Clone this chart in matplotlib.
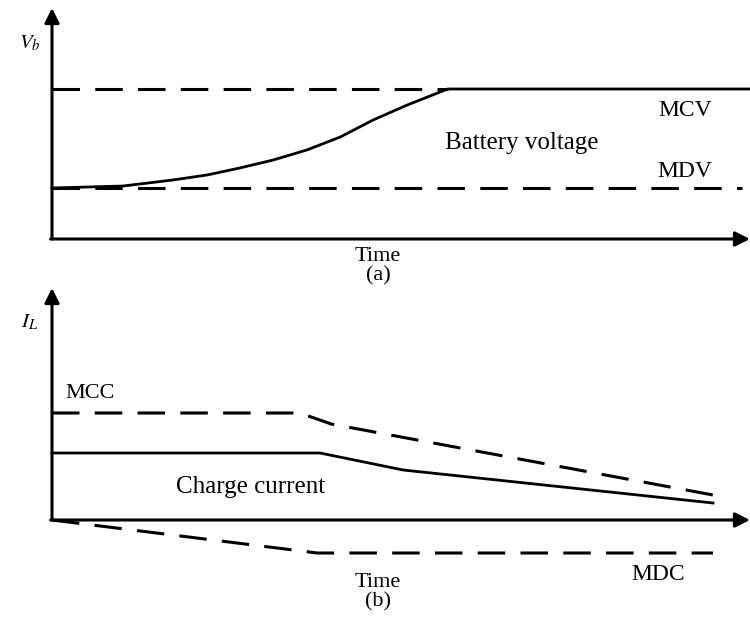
import numpy as np
import matplotlib.pyplot as plt

plt.rcParams["font.family"] = ["Liberation Serif", "DejaVu Serif"]
plt.rcParams["mathtext.fontset"] = "stix"

# (a) battery voltage, time in arbitrary units
mcv = 3.0
mdv = 1.02
volt_t = [0.0, 1.02, 1.73, 2.22, 2.69, 3.17, 3.65, 4.13, 4.60, 5.09, 5.56, 5.67, 10.0]
volt_v = [1.02, 1.06, 1.18, 1.28, 1.42, 1.58, 1.78, 2.04, 2.38, 2.68, 2.94, 3.0, 3.0]
mdv_end = 9.89

# (b) charge current and its limits
mcc_t = [0.0, 3.55, 4.0, 9.47]
mcc_v = [2.14, 2.14, 1.92, 0.5]
cur_t = [0.0, 3.84, 5.03, 9.47]
cur_v = [1.34, 1.34, 1.0, 0.34]
mdc_t = [0.0, 3.8, 9.47]
mdc_v = [0.0, -0.66, -0.66]

W, H = 750, 619
DASH = (9, 5)


def frac(px_left, px_top, px_right, px_bottom):
    return [px_left / W, 1 - px_bottom / H, (px_right - px_left) / W, (px_bottom - px_top) / H]


def draw_axes(ax, ymin, ymax):
    arrow = dict(arrowstyle="-|>", color="black", lw=2.2, mutation_scale=22, shrinkA=0, shrinkB=0)
    ax.annotate("", xy=(0, ymax), xytext=(0, ymin), arrowprops=arrow, annotation_clip=False)
    ax.annotate("", xy=(10, 0), xytext=(-0.02, 0), arrowprops=arrow, annotation_clip=False)


fig = plt.figure(figsize=(7.5, 6.19), dpi=100)

# top panel
ax1 = fig.add_axes(frac(52, 8, 750, 239))
ax1.set_xlim(0, 10)
ax1.set_ylim(0, 4.62)
ax1.axis("off")
draw_axes(ax1, 0, 4.62)
ax1.plot([0, volt_t[-2]], [mcv, mcv], color="black", lw=2.2, dashes=DASH, clip_on=False)
ax1.plot([0, mdv_end], [mdv, mdv], color="black", lw=2.2, dashes=DASH, clip_on=False)
ax1.plot(volt_t, volt_v, color="black", lw=2.0, clip_on=False, solid_joinstyle="round")

ax1.text(-0.32, 3.92, "$V_b$", fontsize=15, ha="center", va="center")
ax1.text(9.07, 2.58, "MCV", fontsize=17, ha="center", va="center")
ax1.text(6.73, 1.92, "Battery voltage", fontsize=18, ha="center", va="center")
ax1.text(9.07, 1.34, "MDV", fontsize=17, ha="center", va="center")
ax1.text(4.67, -0.54, "Time\n(a)", fontsize=16, ha="center", va="center",
         multialignment="center", linespacing=1.05)

# bottom panel
ax2 = fig.add_axes(frac(52, 288, 750, 565))
ax2.set_xlim(0, 10)
ax2.set_ylim(-0.9, 4.64)
ax2.axis("off")
draw_axes(ax2, 0, 4.64)
ax2.plot(mcc_t, mcc_v, color="black", lw=2.2, dashes=DASH, clip_on=False)
ax2.plot(cur_t, cur_v, color="black", lw=2.0, clip_on=False)
ax2.plot(mdc_t, mdc_v, color="black", lw=2.2, dashes=DASH, clip_on=False)

ax2.text(-0.32, 3.96, "$I_L$", fontsize=15, ha="center", va="center")
ax2.text(0.54, 2.54, "MCC", fontsize=16, ha="center", va="center")
ax2.text(2.84, 0.66, "Charge current", fontsize=18, ha="center", va="center")
ax2.text(8.68, -1.1, "MDC", fontsize=17, ha="center", va="center")
ax2.text(4.67, -1.45, "Time\n(b)", fontsize=16, ha="center", va="center",
         multialignment="center", linespacing=1.0)

fig.savefig("out.png", dpi=100)
